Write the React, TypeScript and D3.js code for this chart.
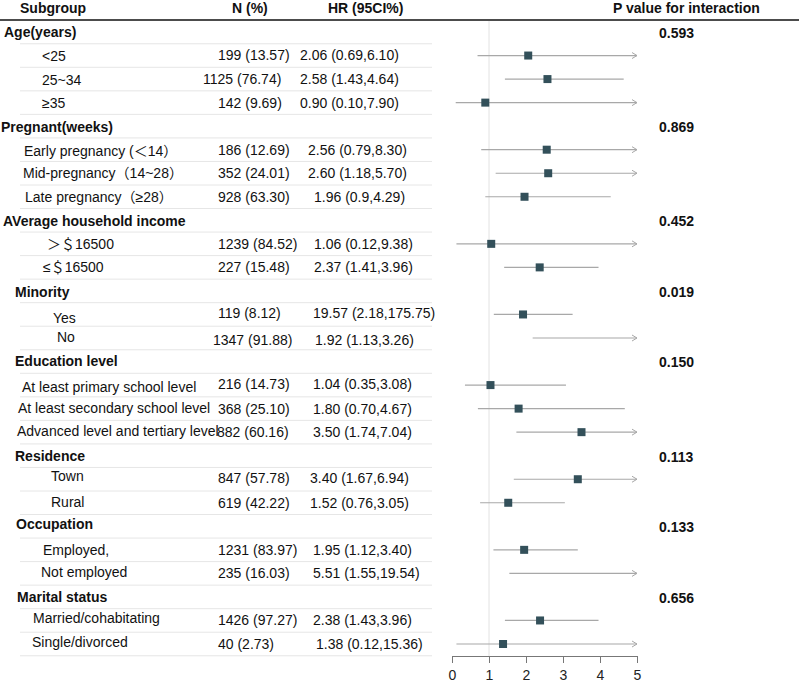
import { useRef, useEffect } from 'react';
import * as d3 from 'd3';

const GROUPS = [
  'Age(years)',
  'Pregnant(weeks)',
  'AVerage household income',
  'Minority',
  'Education level',
  'Residence',
  'Occupation',
  'Marital status',
];
const GROUP_SIZES = [3, 3, 2, 2, 3, 2, 2, 2];
const P_VALUES = ['0.593', '0.869', '0.452', '0.019', '0.150', '0.113', '0.133', '0.656'];

const SUBGROUPS = [
  '<25', '25~34', '≥35',
  'Early pregnancy (＜14）', 'Mid-pregnancy（14~28）', 'Late pregnancy（≥28）',
  '＞＄16500', '≤＄16500',
  'Yes', 'No',
  'At least primary school level', 'At least secondary school level', 'Advanced level and tertiary level',
  'Town', 'Rural',
  'Employed,', 'Not employed',
  'Married/cohabitating', 'Single/divorced',
];
const N_PCT = [
  '199 (13.57)', '1125 (76.74)', '142 (9.69)',
  '186 (12.69)', '352 (24.01)', '928 (63.30)',
  '1239 (84.52)', '227 (15.48)',
  '119 (8.12)', '1347 (91.88)',
  '216 (14.73)', '368 (25.10)', '882 (60.16)',
  '847 (57.78)', '619 (42.22)',
  '1231 (83.97)', '235 (16.03)',
  '1426 (97.27)', '40 (2.73)',
];
const HR_TEXT = [
  '2.06 (0.69,6.10)', '2.58 (1.43,4.64)', '0.90 (0.10,7.90)',
  '2.56 (0.79,8.30)', '2.60 (1.18,5.70)', '1.96 (0.9,4.29)',
  '1.06 (0.12,9.38)', '2.37 (1.41,3.96)',
  '19.57 (2.18,175.75)', '1.92 (1.13,3.26)',
  '1.04 (0.35,3.08)', '1.80 (0.70,4.67)', '3.50 (1.74,7.04)',
  '3.40 (1.67,6.94)', '1.52 (0.76,3.05)',
  '1.95 (1.12,3.40)', '5.51 (1.55,19.54)',
  '2.38 (1.43,3.96)', '1.38 (0.12,15.36)',
];
// values as plotted in the figure (the Minority rows are drawn swapped)
const EST = [2.06, 2.58, 0.9, 2.56, 2.6, 1.96, 1.06, 2.37, 1.92, 19.57, 1.04, 1.8, 3.5, 3.4, 1.52, 1.95, 5.51, 2.38, 1.38];
const LOWER = [0.69, 1.43, 0.1, 0.79, 1.18, 0.9, 0.12, 1.41, 1.13, 2.18, 0.35, 0.7, 1.74, 1.67, 0.76, 1.12, 1.55, 1.43, 0.12];
const UPPER = [6.1, 4.64, 7.9, 8.3, 5.7, 4.29, 9.38, 3.96, 3.26, 175.75, 3.08, 4.67, 7.04, 6.94, 3.05, 3.4, 19.54, 3.96, 15.36];
const X_TICKS = [0, 1, 2, 3, 4, 5];

// layout tweaks (label indents per row, column x per subgroup)
const LABEL_X = [4, 42, 42, 42, 1, 24, 23, 25, 3, 47, 43, 15, 53, 57, 15, 22, 18, 17, 15, 51, 51, 16, 43, 41, 17, 33, 32];
const LABEL_DY = [0, 1, 1, 0, 1, 1, 0, 0, 1, 0, 0, 1, 3.5, -1, 0, 2, -1, -1, 0, -3, -1, -2, 0, -1, 0, -2.5, -2];
const N_X = [218, 203, 218, 218, 218, 218, 218, 218, 218, 213, 218, 218, 217, 218, 218, 218, 218, 218, 218];
const HR_X = [300, 300, 300, 308, 308, 314, 314, 314, 313, 315, 313, 313, 313, 310, 310, 313, 313, 313, 316];
const VAL_DY = [0, 0, 0, 0, 0, 0, 0, 0, -1.5, 2, -1, 0, 0, -1, 0, 0, 0, 0, 0];

const FONT = '"Liberation Sans", Arial, "Noto Sans CJK SC", sans-serif';

export default function App() {
  const svgRef = useRef<SVGSVGElement>(null);

  useEffect(() => {
    const width = 799;
    const height = 685;
    const svg = d3.select(svgRef.current);
    svg.selectAll('*').remove();
    svg.attr('width', width).attr('height', height).style('font-family', FONT);

    // build row list
    type Row = { kind: 'group' | 'sub'; label: string; g: number; s: number };
    const rows: Row[] = [];
    let s = 0;
    GROUPS.forEach((g, gi) => {
      rows.push({ kind: 'group', label: g, g: gi, s: -1 });
      for (let k = 0; k < GROUP_SIZES[gi]; k++) {
        rows.push({ kind: 'sub', label: SUBGROUPS[s], g: gi, s });
        s++;
      }
    });

    const y = d3.scaleLinear().domain([0, rows.length - 1]).range([32, 644]);
    const x = d3.scaleLinear().domain([0, 5]).range([452, 637]);
    const step = y(1) - y(0);
    const axisY = 656;
    const bodySize = 14;

    // header
    const head = svg.append('g').attr('font-weight', 'bold').attr('font-size', 14).attr('fill', '#111');
    head.append('text').attr('x', 20).attr('y', 8).attr('dy', '0.35em').text('Subgroup');
    head.append('text').attr('x', 232).attr('y', 8).attr('dy', '0.35em').text('N (%)');
    head.append('text').attr('x', 328).attr('y', 8).attr('dy', '0.35em').text('HR (95CI%)');
    head.append('text').attr('x', 613).attr('y', 8).attr('dy', '0.35em').text('P value for interaction');
    svg.append('line')
      .attr('x1', 0).attr('x2', width).attr('y1', 20).attr('y2', 20)
      .attr('stroke', '#111').attr('stroke-width', 1.5);

    // row separators
    rows.forEach((_, i) => {
      svg.append('line')
        .attr('x1', 20).attr('x2', 432)
        .attr('y1', y(i) + step / 2).attr('y2', y(i) + step / 2)
        .attr('stroke', '#e6e6e6');
    });

    // reference line at HR = 1
    svg.append('line')
      .attr('x1', x(1)).attr('x2', x(1)).attr('y1', 21).attr('y2', axisY)
      .attr('stroke', '#e2e2e2');

    // text columns
    rows.forEach((r, i) => {
      if (r.kind === 'group') {
        svg.append('text')
          .attr('x', LABEL_X[i]).attr('y', y(i) + LABEL_DY[i]).attr('dy', '0.35em')
          .attr('font-size', 14).attr('font-weight', 'bold').attr('fill', '#111')
          .text(r.label);
        svg.append('text')
          .attr('x', 659).attr('y', y(i) + 1).attr('dy', '0.35em')
          .attr('font-size', 14).attr('font-weight', 'bold').attr('fill', '#111')
          .text(P_VALUES[r.g]);
      } else {
        svg.append('text')
          .attr('x', LABEL_X[i]).attr('y', y(i) + LABEL_DY[i]).attr('dy', '0.35em')
          .attr('font-size', bodySize).attr('fill', '#111')
          .text(r.label);
        svg.append('text')
          .attr('x', N_X[r.s]).attr('y', y(i) + VAL_DY[r.s]).attr('dy', '0.35em')
          .attr('font-size', bodySize).attr('fill', '#111')
          .text(N_PCT[r.s]);
        svg.append('text')
          .attr('x', HR_X[r.s]).attr('y', y(i) + VAL_DY[r.s]).attr('dy', '0.35em')
          .attr('font-size', bodySize).attr('fill', '#111')
          .text(HR_TEXT[r.s]);
      }
    });

    // CI lines, arrows and markers
    const [dMin, dMax] = x.domain();
    const ciColor = '#a8a8a8';
    const plot = svg.append('g');
    rows.forEach((r, i) => {
      if (r.kind !== 'sub') return;
      const lo = Math.max(LOWER[r.s], dMin);
      const hi = Math.min(UPPER[r.s], dMax);
      const cy = y(i);
      plot.append('line')
        .attr('x1', x(lo)).attr('x2', x(hi)).attr('y1', cy).attr('y2', cy)
        .attr('stroke', ciColor).attr('stroke-width', 1.2);
      if (UPPER[r.s] > dMax) {
        plot.append('path')
          .attr('d', `M${x(dMax) - 5},${cy - 3}L${x(dMax)},${cy}L${x(dMax) - 5},${cy + 3}`)
          .attr('fill', 'none').attr('stroke', ciColor).attr('stroke-width', 1);
      }
      const e = EST[r.s];
      if (e >= dMin && e <= dMax) {
        plot.append('rect')
          .attr('x', x(e) - 4).attr('y', cy - 4)
          .attr('width', 8).attr('height', 8)
          .attr('fill', '#33505a');
      }
    });

    // x axis
    svg.append('g')
      .attr('transform', `translate(0,${axisY})`)
      .call(d3.axisBottom(x).tickValues(X_TICKS).tickFormat(d3.format('d')).tickSize(7).tickSizeOuter(0).tickPadding(7))
      .call((g) => g.select('.domain').attr('stroke', '#777'))
      .call((g) => g.selectAll('.tick line').attr('stroke', '#777'))
      .call((g) => g.selectAll('text').attr('fill', '#222').style('font-size', '14px').style('font-family', FONT));
  }, []);

  return <svg ref={svgRef} style={{ position: 'absolute', left: 0, top: 0 }} />;
}
